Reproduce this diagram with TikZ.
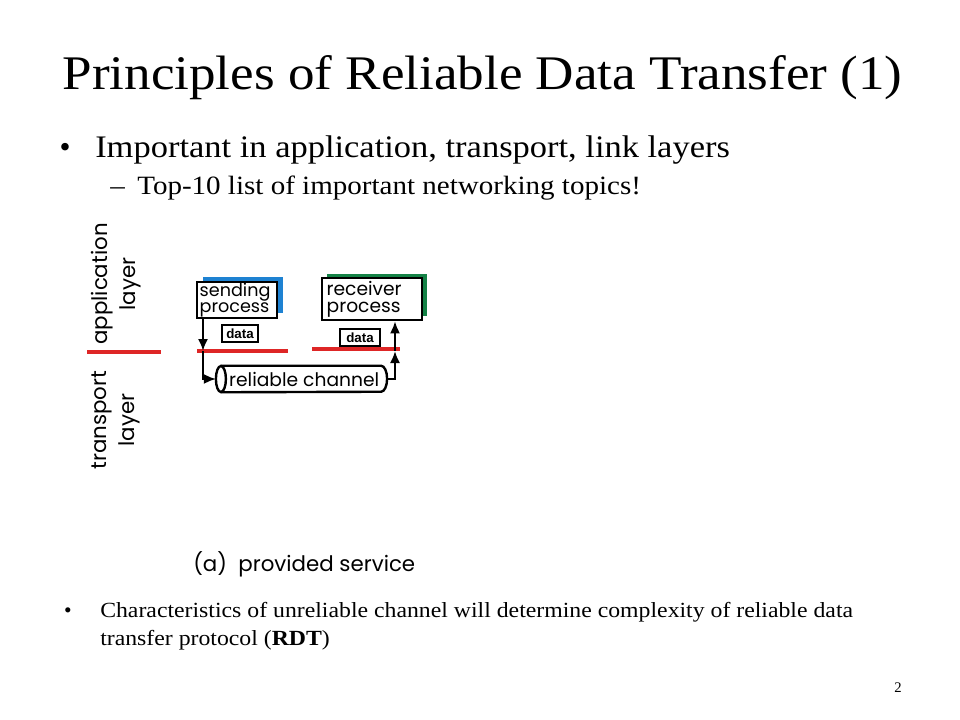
\documentclass[tikz,border=0pt]{standalone}
\usepackage{fontspec}
\setmainfont{Liberation Serif}
\newfontfamily\figfont{Poppins}
\newfontfamily\boldsans{Liberation Sans}
\usetikzlibrary{shadows,arrows.meta}
\definecolor{layerred}{RGB}{222,38,38}
\definecolor{sendblue}{RGB}{30,130,210}
\definecolor{recvgreen}{RGB}{20,130,70}
\newcommand{\wide}[1]{\scalebox{1.1}[1]{#1}}
\tikzset{slide/.style={inner sep=0pt, anchor=base west},
  figlab/.style={rotate=90, align=center, inner sep=0pt, font=\figfont\fontsize{16}{21}\selectfont},
  layer/.style={draw=layerred, line width=2.5pt},
  proc/.style={draw, line width=2pt, fill=white, align=left, inner xsep=2pt, inner ysep=0pt, font=\figfont\fontsize{13.2}{12.2}\selectfont},
  datbox/.style={draw, line width=1.6pt, inner sep=1pt, minimum height=12.5pt, font=\boldsans\bfseries\fontsize{10}{10}\selectfont},
  chanline/.style={line width=1.8pt},
  flow/.style={line width=1.5pt, -{Latex[length=9pt,width=7.5pt]}}}

\begin{document}
\begin{tikzpicture}[x=0.75pt,y=-0.75pt]
\useasboundingbox[fill=white] (0,0) rectangle (960,720);
% slide text
\node[slide, anchor=base] (title) at (482.5,90) {\fontsize{36.2}{40}\selectfont\wide{Principles of Reliable Data Transfer (1)}};
\node[slide, anchor=base] (dot1) at (65,158) {\fontsize{23.5}{28}\selectfont •};
\node[slide] (imp) at (95,158) {\fontsize{23.5}{28}\selectfont\wide{Important in application, transport, link layers}};
\node[slide] (dash) at (110,195) {\fontsize{19.8}{24}\selectfont\wide{–}};
\node[slide] (topten) at (137,195) {\fontsize{19.8}{24}\selectfont\wide{Top-10 list of important networking topics!}};
\node[slide, anchor=base] (dot2) at (68,617) {\fontsize{16.2}{20}\selectfont •};
\node[slide] (chara) at (100,617) {\fontsize{16.2}{20}\selectfont\wide{Characteristics of unreliable channel will determine complexity of reliable data}};
\node[slide] (charb) at (100,645) {\fontsize{16.2}{20}\selectfont\wide{transfer protocol (\textbf{RDT})}};
\node[slide, anchor=base] (pgno) at (898,692) {\fontsize{11}{13}\selectfont 2};
% layers
\node[figlab] (applab) at (116,284) {application\\layer};
\node[figlab] (translab) at (116,420) {transport\\layer};
\draw[layer] (87,352) -- (161,352);
\draw[layer] (197,351) -- (288,351);
\draw[layer] (312,349) -- (400,349);
% processes and channel
\node[proc, general shadow={fill=sendblue, shadow xshift=4.5pt, shadow yshift=3.75pt}, text width=56pt, minimum height=27pt] (send) at (237,300) {sending\\process};
\node[proc, general shadow={fill=recvgreen, shadow xshift=3.75pt, shadow yshift=3pt}, inner xsep=3.5pt, text width=68pt, minimum height=31.5pt, font=\figfont\fontsize{14}{13}\selectfont] (recv) at (372,299) {receiver\\process};
\node[datbox, minimum width=27pt] (sdata) at (240,333.5) {data};
\node[datbox, minimum width=30pt] (rdata) at (360,337.5) {data};
\node[inner sep=0pt, minimum width=128pt, minimum height=19.5pt, font=\figfont\fontsize{14}{14}\selectfont] (chan) at (301.5,379) {\hspace{4pt}reliable channel};
\draw[chanline] ([shift={(5,0)}]chan.north west) -- ([shift={(-6,0)}]chan.north east)
  arc[start angle=-90, end angle=90, x radius=6, y radius=13] -- ([shift={(5,0)}]chan.south west);
\draw[chanline] ([shift={(5,0)}]chan.west) ellipse [x radius=5, y radius=13];
\coordinate (sdrop) at (203,351);
\coordinate (rrise) at (395,351);
\draw[flow] (send.south -| sdrop) -- (sdrop);
\draw[flow] (sdrop) |- (chan.west);
\draw[flow] (chan.east) -| (rrise);
\draw[flow] (rrise) -- (recv.south -| rrise);
\node[slide, font=\figfont\fontsize{16}{16}\selectfont] (caption) at (193,571) {(a)\ \ provided service};
\end{tikzpicture}
\end{document}
